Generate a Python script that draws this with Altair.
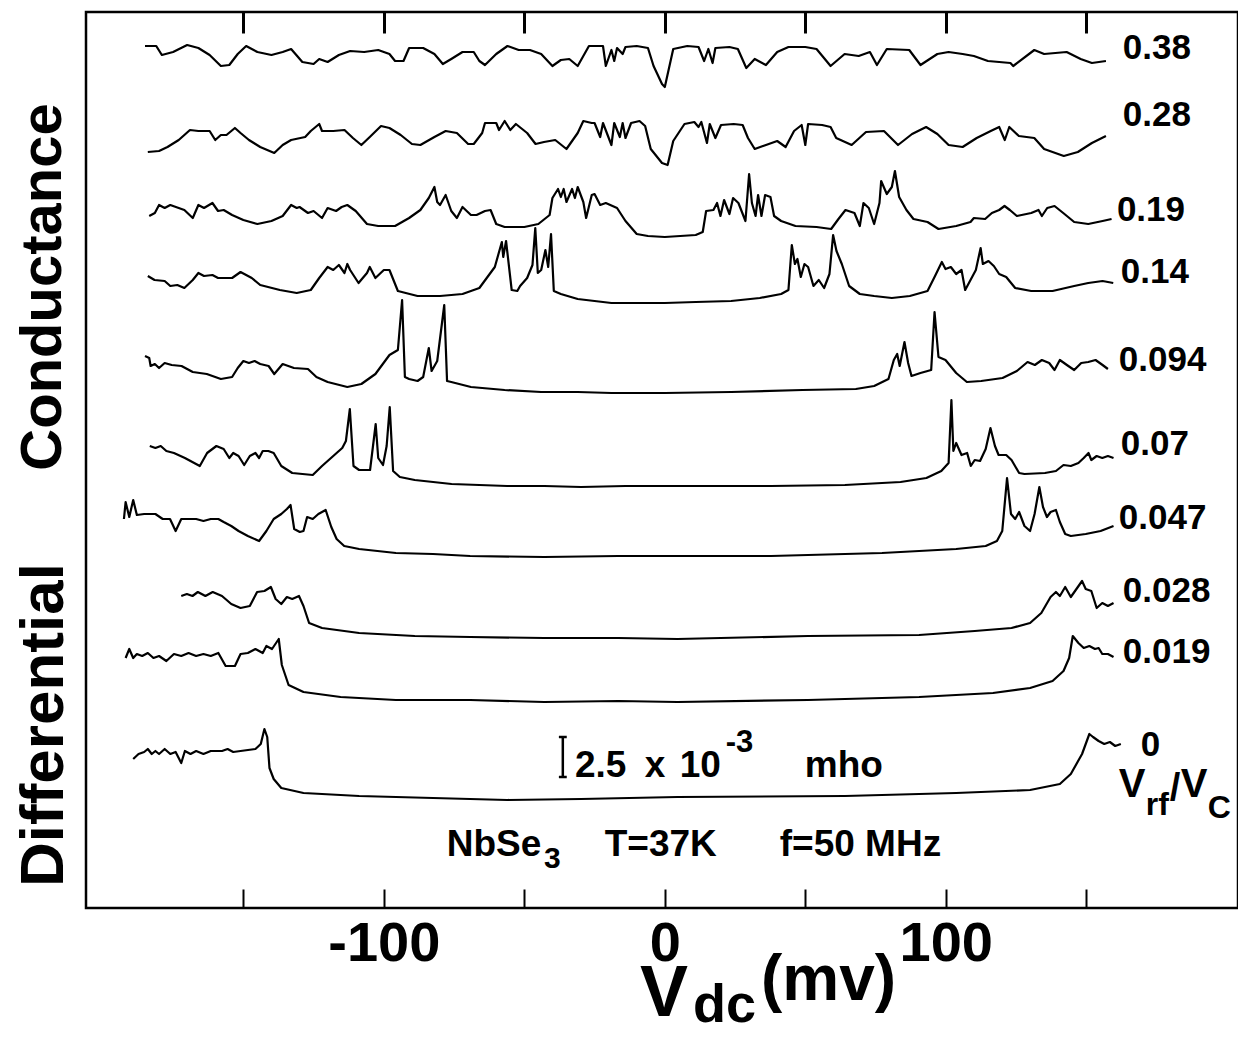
import altair as alt
import pandas as pd

FONT = "Liberation Sans"

# ---------------- data ----------------
# Vrf/Vc ratio of each trace (top to bottom) and the vertical offset of each trace
ratios = ["0.38", "0.28", "0.19", "0.14", "0.094", "0.07", "0.047", "0.028", "0.019", "0"]
offsets = [821, 743, 671, 605, 516, 422, 352, 270, 208, 110]

# (Vdc in mV, differential conductance relative to the trace level, arb. units)
trace_038 = [(-185,41),(-181,41),(-179,32),(-175,35),(-170,42),(-166,39),(-162,32),(-158,21),(-155,22),(-152,33),
    (-149,41),(-145,35),(-140,32),(-136,35),(-133,38),(-129,25),(-125,23),(-123,28),(-120,25),(-116,32),(-112,36),
    (-107,35),(-102,37),(-98,33),(-96,26),(-93,26),(-91,39),(-86,39),(-82,33),(-79,23),(-76,28),(-72,35),(-68,35),
    (-66,26),(-64,22),(-60,33),(-56,41),(-52,37),(-48,37),(-44,33),(-40,21),(-37,27),(-34,28),(-31,21),(-27,41),
    (-22,41),(-21,21),(-19,37),(-18,26),(-17,39),(-15,33),(-14,40),(-10,41),(-6,39),(-4,21),(-1,3),(0,0),(3,38),
    (8,41),(12,40),(14,26),(15.5,38),(17,24),(18,39),(23,40),(26,38),(29,19),(32,28),(36,22),(40,35),(44,40),(50,40),
    (54,38),(59,21),(64,33),(69,31),(73,35),(75.5,22),(79,38),(87,37),(91,22),(97,33),(101,35),(106,33),(110,31),
    (115,26),(123,24),(124,21),(131.5,37),(135,33),(143,35),(148,28),(152,24),(157,26)]

trace_028 = [(-184,13),(-180,14),(-177,18),(-173,25),(-169,35),(-166,34),(-162,34),(-160,25),(-158,30),(-156,30),
    (-153,37),(-151,32),(-148,25),(-144,18),(-139,12),(-136,20),(-133,25),(-128,28),(-126,34),(-123,41),(-122,34),
    (-118,34),(-114,35),(-111,27),(-108,20),(-105,28),(-101,39),(-98,37),(-94,30),(-90,21),(-87,20),(-82,28),(-78,34),
    (-74,32),(-70,21),(-68,21),(-65,32),(-64,42),(-60,42),(-59,35),(-57,44),(-55,35),(-53,41),(-49,32),(-46,21),
    (-43,23),(-39,25),(-35,16),(-31,32),(-29,44),(-26,42),(-25,42),(-23,28),(-22,42),(-19,20),(-18,42),(-16,28),
    (-15,42),(-14,27),(-12,42),(-9,44),(-7,39),(-5,16),(-1,2),(1,0),(3,24),(7,41),(10.5,43),(12,38),(13,43),(15,22),
    (16,41),(18,27),(20,40),(24.5,41),(27.7,40),(29.6,27),(32,16),(36,20),(40,24),(43,18),(46,34),(48.7,40),(50,20),
    (51,41),(56,40),(59,38),(61,27),(66.5,20),(71.6,33),(78,34),(83,20),(88,31),(93,38),(97,31),(101,20),(106,18),
    (111,27),(116,34),(119,38),(121,25),(122.6,38),(126,29),(131.5,27),(135,16),(142,9),(147,13),(152,22),(157,29)]

trace_019 = [(-183.5,21),(-181.5,24),(-180,32),(-178,29),(-176,32),(-173,29),(-171,27),(-168,19),(-166,32),(-164,29),
    (-161,34),(-159,26),(-157,27),(-154,22),(-150,17),(-145,13),(-140,16),(-136,21),(-133,32),(-131,29),(-130,30),
    (-127,24),(-125,26),(-122,19),(-120,29),(-117,26),(-115,30),(-113,32),(-110,26),(-106,13),(-102,11),(-96,11),
    (-91,19),(-87,27),(-84,39),(-82,50),(-81,35),(-80,32),(-78,42),(-76,26),(-74,19),(-72,30),(-69,22),(-67,22),
    (-64,26),(-62,27),(-60,13),(-57,10),(-50,10),(-45,13),(-41,22),(-40,39),(-38,48),(-37,40),(-36,48),(-35,35),
    (-33,48),(-32,39),(-31,50),(-29,35),(-28,19),(-26,42),(-25,43),(-23,32),(-21,34),(-17,29),(-14,16),(-10,3),
    (-6,1),(0,0),(11,2),(13.5,5),(14.7,26),(17.3,27),(18.6,34),(19.8,21),(21.1,37),(23,23),(24.3,39),(26.2,34),
    (28.7,16),(30,63),(31,34),(32.3,21),(33.2,42),(34.4,21),(35.7,42),(37.6,40),(38.9,21),(41.4,16),(46.5,11),(54,10),
    (59.2,8),(61.8,18),(64.3,27),(67.5,24),(69.4,11),(70.7,34),(72.6,29),(74.5,13),(76.4,34),(77,56),(79,43),
    (80.8,50),(81.9,66),(83.4,40),(86,27),(88.5,18),(93.5,15),(97.4,8),(103.7,11),(108.8,15),(110,19),(114,18),
    (116.4,24),(119,27),(120.9,31),(122.8,27),(125.3,21),(130.4,24),(133,27),(134.2,21),(136.1,29),(138.7,31),
    (141.8,24),(145.7,15),(150.7,13),(155.8,16),(159,18)]

trace_014 = [(-184,27),(-181.6,23),(-178,22),(-176,17),(-173.5,18),(-171,15),(-168,23),(-166,30),(-164,27),(-161,28),
    (-159,25),(-156,25),(-154,25),(-151,31),(-149,28),(-147,25),(-144,18),(-137,13),(-131,10),(-126,13),(-123,25),
    (-120,36),(-118,33),(-116,38),(-114,30),(-113,39),(-112,33),(-109,20),(-106,30),(-105,36),(-103,25),(-100,33),
    (-98,33),(-95,12),(-88,7),(-80,7),(-72,9),(-66,15),(-60.5,36),(-58,61),(-57.5,46),(-56.5,62),(-54.5,13),
    (-52.5,12),(-51.5,17),(-49,25),(-47.1,38),(-46.1,75),(-45.2,30),(-44,33),(-42.5,53),(-41.5,36),(-40.5,69),
    (-39.5,12),(-37,9),(-31,4),(-19,0),(-6,0),(0,0),(11,1),(23.6,2),(33.8,5),(41.4,9),(44,13),(45.2,58),(46.3,39),
    (47.2,44),(48.4,26),(49.7,39),(51,36),(52.9,17),(54.8,23),(56.7,15),(58.6,29),(59.9,68),(61.1,52),(63,39),
    (65.6,17),(69.4,9),(74.5,7),(80.8,5),(87.2,7),(93.5,12),(96,26),(98.6,41),(99.9,34),(101.8,36),(103.7,29),
    (105.6,33),(106.9,13),(108.8,23),(110.7,33),(112.4,55),(113.2,39),(115.2,42),(117.1,37),(119,29),(121.5,26),
    (124.7,15),(130.4,12),(138,12),(145.7,17),(150.7,20),(155.8,22),(159.6,20)]

trace_0094 = [(-185,36),(-183.5,34),(-183,26),(-181.5,28),(-180,24),(-178,29),(-175.5,27),(-172,26),(-170,23),
    (-168,20),(-163,18),(-158,13),(-154,15),(-152,24),(-150,31),(-148,29),(-146,31),(-144,28),(-141,26),(-139,18),
    (-136,28),(-132,24),(-127,23),(-124,15),(-120,10),(-113,5),(-108,8),(-103,18),(-98,37),(-95,42),(-93.5,92),
    (-92.5,15),(-91,13),(-88,11),(-86,15),(-84,44),(-83,21),(-81,31),(-78.5,87),(-77.5,11),(-76,10),(-69,5),(-57,2),
    (-44,0),(-31,0),(-19,-1),(0,-1),(23.6,0),(49,2),(68,3),(74.5,6),(79.6,13),(81.5,32),(82.7,38),(83.6,26),
    (85.3,50),(86.6,29),(87.8,16),(91,19),(94.8,22),(96,80),(97.4,35),(99.9,32),(103.7,19),(107.5,10),(112.6,11),
    (120.2,14),(125.3,21),(129.1,30),(131.7,27),(134.2,32),(136.8,29),(138.7,22),(140.6,32),(143.1,27),(145.7,22),
    (148.2,29),(150.7,30),(153.3,32),(155.8,27),(157.7,23)]

trace_007 = [(-183.3,40),(-181.3,38),(-179.4,40),(-177.4,35),(-174.7,33),(-170.8,28),(-165.5,20),(-162.9,33),
    (-159.6,40),(-157,37),(-155,28),(-153.6,33),(-151.7,30),(-149.7,21),(-147.7,30),(-145.7,33),(-144.4,28),
    (-143.1,35),(-141.1,35),(-139.2,33),(-136.5,20),(-132.6,13),(-125.3,11),(-122,20),(-118,30),(-114.8,38),
    (-113.5,45),(-112.1,77),(-110.8,20),(-108.8,16),(-104.9,16),(-102.9,62),(-102,28),(-100.3,21),(-99,40),
    (-97.9,79),(-96.7,15),(-94.3,9),(-89,6),(-75.9,2),(-56.1,0),(-42.9,0),(-29.8,-1),(-14,0),(4.5,0),(37.8,0),
    (64.1,1),(83.9,4),(93.1,8),(98.4,15),(101,23),(102,86),(102.7,35),(103.7,43),(105.6,31),(107.6,33),(108.9,20),
    (110.3,26),(112.2,25),(114.2,37),(115.9,58),(117.5,40),(118.8,31),(121.5,31),(123.4,26),(126.1,13),(128,12),
    (135.3,13),(139.2,15),(141.9,21),(144.5,20),(147.2,23),(149.1,28),(150.8,33),(151.8,26),(153.7,30),(155.7,28),
    (157.7,30),(159.7,28)]

trace_0047 = [(-192.5,37),(-191.9,54),(-190.6,39),(-189.2,56),(-187.9,41),(-185.3,42),(-181.3,42),(-178.7,37),
    (-176.1,37),(-174.1,25),(-172.1,37),(-166.8,37),(-164.2,35),(-161.6,37),(-158.9,37),(-157,34),(-154.3,30),
    (-151.7,25),(-148.4,20),(-144.4,15),(-141.8,25),(-139.2,37),(-136.5,42),(-134.5,47),(-133.2,51),(-131.9,27),
    (-129.9,24),(-128.6,25),(-127.3,39),(-125.3,37),(-123.3,42),(-122,44),(-120.7,46),(-118.7,29),(-116.8,17),
    (-114.1,10),(-108.8,7),(-95.7,3),(-82.5,2),(-69.3,0),(-42.9,-1),(-16.6,0),(4.5,0),(37.8,0),(77.3,3),(103.7,7),
    (114.2,10),(118.2,15),(120.1,25),(121.8,78),(123.2,42),(124.7,37),(126.1,44),(128,30),(130,25),(131.6,42),
    (133.3,69),(134.6,49),(136,39),(137.3,44),(139.2,46),(140.6,34),(142.5,22),(144.5,20),(149.8,22),(155.1,25),
    (159.7,30)]

trace_0028 = [(-172.1,42),(-170.1,44),(-168.1,42),(-166.2,46),(-163.5,42),(-160.9,46),(-157.6,42),(-154.3,34),
    (-151,30),(-147.7,32),(-145.1,46),(-142.5,47),(-140.2,51),(-138.5,39),(-136.5,34),(-134.5,41),(-132.6,39),
    (-130.2,42),(-128.6,32),(-126.6,15),(-122,10),(-108.8,5),(-89,2),(-69.3,1),(-42.9,0),(-16.6,0),(4.5,-1),
    (50.9,2),(90.5,3),(110.3,7),(123.4,10),(130,15),(134,25),(137.3,41),(139.2,46),(140.6,42),(142.5,51),(144.5,41),
    (146.5,49),(148.5,57),(149.8,49),(151.8,47),(153.7,30),(155.7,35),(157.7,32),(159.7,35)]

trace_0019 = [(-191.9,42),(-190.6,51),(-189.2,42),(-187.9,46),(-186,44),(-184,47),(-182,42),(-180,44),(-177.4,39),
    (-174.7,46),(-172.1,44),(-169.5,47),(-166.8,44),(-164.2,46),(-161.6,44),(-158.9,47),(-156.3,34),(-153,34),
    (-151,46),(-148.4,47),(-145.7,51),(-143.1,47),(-141.8,54),(-139.8,51),(-137.4,61),(-136.3,35),(-133.9,15),
    (-128.6,8),(-115.4,3),(-95.7,0),(-69.3,0),(-42.9,-2),(-16.6,-1),(4.5,-2),(50.9,0),(90.5,3),(116.8,7),(130,12),
    (138,19),(141.9,29),(143.9,42),(145.2,64),(147.2,57),(149.1,52),(151.1,54),(153.1,51),(154.4,52),(155.7,46),
    (157.7,46),(159.7,43)]

trace_0 = [(-189.2,39),(-187.3,44),(-185.3,46),(-184,49),(-182.6,44),(-181.3,47),(-180,44),(-178,49),(-176,44),
    (-174.1,46),(-172.1,35),(-170.8,47),(-168.8,44),(-166.8,47),(-164.2,44),(-161.6,47),(-157.6,47),(-155.6,49),
    (-153.6,46),(-151,47),(-145.7,49),(-143.8,54),(-142.5,69),(-141.5,61),(-140.7,30),(-139.2,19),(-136.5,10),
    (-128.6,5),(-108.8,2),(-82.5,0),(-56.1,-2),(-29.8,-1),(4.5,1),(64.1,2),(103.7,5),(130,8),(140.6,14),(144.5,24),
    (148.5,44),(151.1,64),(152.4,61),(154.4,57),(156.4,54),(158.4,56),(160.3,52),(162.3,54)]

traces = [trace_038, trace_028, trace_019, trace_014, trace_0094, trace_007, trace_0047, trace_0028, trace_0019, trace_0]

# ratio labels at the right end of each trace
label_vdc = [163, 163, 160.9, 162.3, 161.6, 162.3, 161.6, 163, 163, 169.4]
label_g = [860, 793, 698, 636, 548, 464, 390, 317, 256, 163]

# "Vrf/VC" pieces
vrf_text = ["V", "rf", "/", "V", "C"]
vrf_vdc = [161.6, 171.2, 179.7, 183.6, 193.2]
vrf_g = [111, 93, 108, 111, 90]
vrf_size = [40, 32, 38, 40, 32]

# scale bar text "2.5 x 10^-3 mho"
sb_text = ["2.5", "x", "10", "-3", "mho"]
sb_vdc = [-32.0, -7.1, 5.3, 21.7, 49.8]
sb_g = [131, 131, 131, 156, 131]
sb_size = [37, 37, 37, 31, 37]

# scale bar (2.5e-3 mho) segments
bar_x = [-36.3, -37.7, -37.7]
bar_x2 = [-36.3, -34.9, -34.9]
bar_y = [131, 131, 171]
bar_y2 = [171, 131, 171]

# "NbSe3  T=37K  f=50 MHz"
nb_text = ["NbSe", "3", "T=37K", "f=50 MHz"]
nb_vdc = [-77.6, -43.0, -21.4, 40.9]
nb_g = [52, 40, 52, 52]
nb_size = [37, 30, 37, 37]

x_tick_values = [-150, -100, -50, 0, 50, 100, 150]
x_label_values = [-100, 0, 100]

# ---------------- tables ----------------
rows = []
for r, off, pts in zip(ratios, offsets, traces):
    for i, (v, g) in enumerate(pts):
        rows.append({"trace": r, "vdc": v, "g": off + g, "i": i})
lines_df = pd.DataFrame(rows)
labels_df = pd.DataFrame({"vdc": label_vdc, "g": label_g, "text": ratios})
vrf_df = pd.DataFrame({"vdc": vrf_vdc, "g": vrf_g, "text": vrf_text, "fs": vrf_size})
sb_df = pd.DataFrame({"vdc": sb_vdc, "g": sb_g, "text": sb_text, "fs": sb_size})
nb_df = pd.DataFrame({"vdc": nb_vdc, "g": nb_g, "text": nb_text, "fs": nb_size})
bar_df = pd.DataFrame({"x": bar_x, "x2": bar_x2, "y": bar_y, "y2": bar_y2})

W, H = 1152, 896
xs = alt.Scale(domain=[-206, 204], nice=False, zero=False)
ys = alt.Scale(domain=[0, 896], nice=False, zero=False)

lines = alt.Chart(lines_df).mark_line(color="black", strokeWidth=2.2, strokeJoin="round").encode(
    x=alt.X("vdc:Q", scale=xs, axis=alt.Axis(orient="bottom", values=x_label_values,
            labelExpr="'' + datum.value", ticks=False, domain=False, grid=False, title=None,
            labelFont=FONT, labelFontSize=56, labelFontWeight="bold", labelColor="black",
            labelPadding=8)),
    y=alt.Y("g:Q", scale=ys, axis=None),
    detail="trace:N",
    order="i:Q",
)

rlabels = alt.Chart(labels_df).mark_text(font=FONT, fontSize=35, fontWeight="bold", align="left",
                                         baseline="middle", color="black").encode(
    x=alt.X("vdc:Q", scale=xs, axis=alt.Axis(orient="top", offset=-H, values=x_tick_values, labels=False,
            ticks=True, tickSize=19, tickWidth=2, tickColor="black", domain=False, grid=False, title=None)),
    y=alt.Y("g:Q", scale=ys, axis=None),
    text="text:N",
)

vrf = alt.Chart(vrf_df).mark_text(font=FONT, fontWeight="bold", align="left", baseline="alphabetic",
                                  color="black").encode(
    x=alt.X("vdc:Q", scale=xs, axis=alt.Axis(orient="bottom", offset=-H, values=x_tick_values, labels=False,
            ticks=True, tickSize=21, tickWidth=3, tickColor="black", domain=False, grid=False, title=None)),
    y=alt.Y("g:Q", scale=ys, axis=None),
    text="text:N",
    size=alt.Size("fs:Q", scale=None, legend=None),
)

sbtext = alt.Chart(sb_df).mark_text(font=FONT, fontWeight="bold", align="left", baseline="alphabetic",
                                    color="black").encode(
    x=alt.X("vdc:Q", scale=xs, axis=None),
    y=alt.Y("g:Q", scale=ys, axis=None),
    text="text:N",
    size=alt.Size("fs:Q", scale=None, legend=None),
)

nbtext = alt.Chart(nb_df).mark_text(font=FONT, fontWeight="bold", align="left", baseline="alphabetic",
                                    color="black").encode(
    x=alt.X("vdc:Q", scale=xs, axis=None),
    y=alt.Y("g:Q", scale=ys, axis=None),
    text="text:N",
    size=alt.Size("fs:Q", scale=None, legend=None),
)

bar = alt.Chart(bar_df).mark_rule(color="black", strokeWidth=2.5).encode(
    x=alt.X("x:Q", scale=xs, axis=None), x2="x2:Q",
    y=alt.Y("y:Q", scale=ys, axis=None), y2="y2:Q",
)


def free_text(txt, px, py, size, angle=0, align="left"):
    df = pd.DataFrame({"text": [txt]})
    mk = dict(font=FONT, fontSize=size, fontWeight="bold", align=align, color="black")
    if angle:
        mk["angle"] = angle
        mk["baseline"] = "middle"
    else:
        mk["baseline"] = "alphabetic"
    return alt.Chart(df).mark_text(**mk).encode(x=alt.value(px), y=alt.value(py), text="text:N")


xt_v = free_text("V", 554, 1004, 72)
xt_dc = free_text("dc", 607, 1010, 54)
xt_mv = free_text("(mv)", 675, 988, 64)
yt_c = free_text("Conductance", -42, 275, 58, angle=270, align="center")
yt_d = free_text("Differential", -42, 713, 62, angle=270, align="center")

chart = alt.layer(lines, rlabels, vrf, sbtext, nbtext, bar, xt_v, xt_dc, xt_mv, yt_c, yt_d).resolve_axis(
    x="independent"
).properties(
    width=W, height=H,
    autosize=alt.AutoSizeParams(type="none"),
    padding={"left": 78, "top": 4, "right": 0, "bottom": 125},
).configure_view(stroke="black", strokeWidth=2.5)

chart.save("out.html", embed_options={"renderer": "svg", "actions": False})
